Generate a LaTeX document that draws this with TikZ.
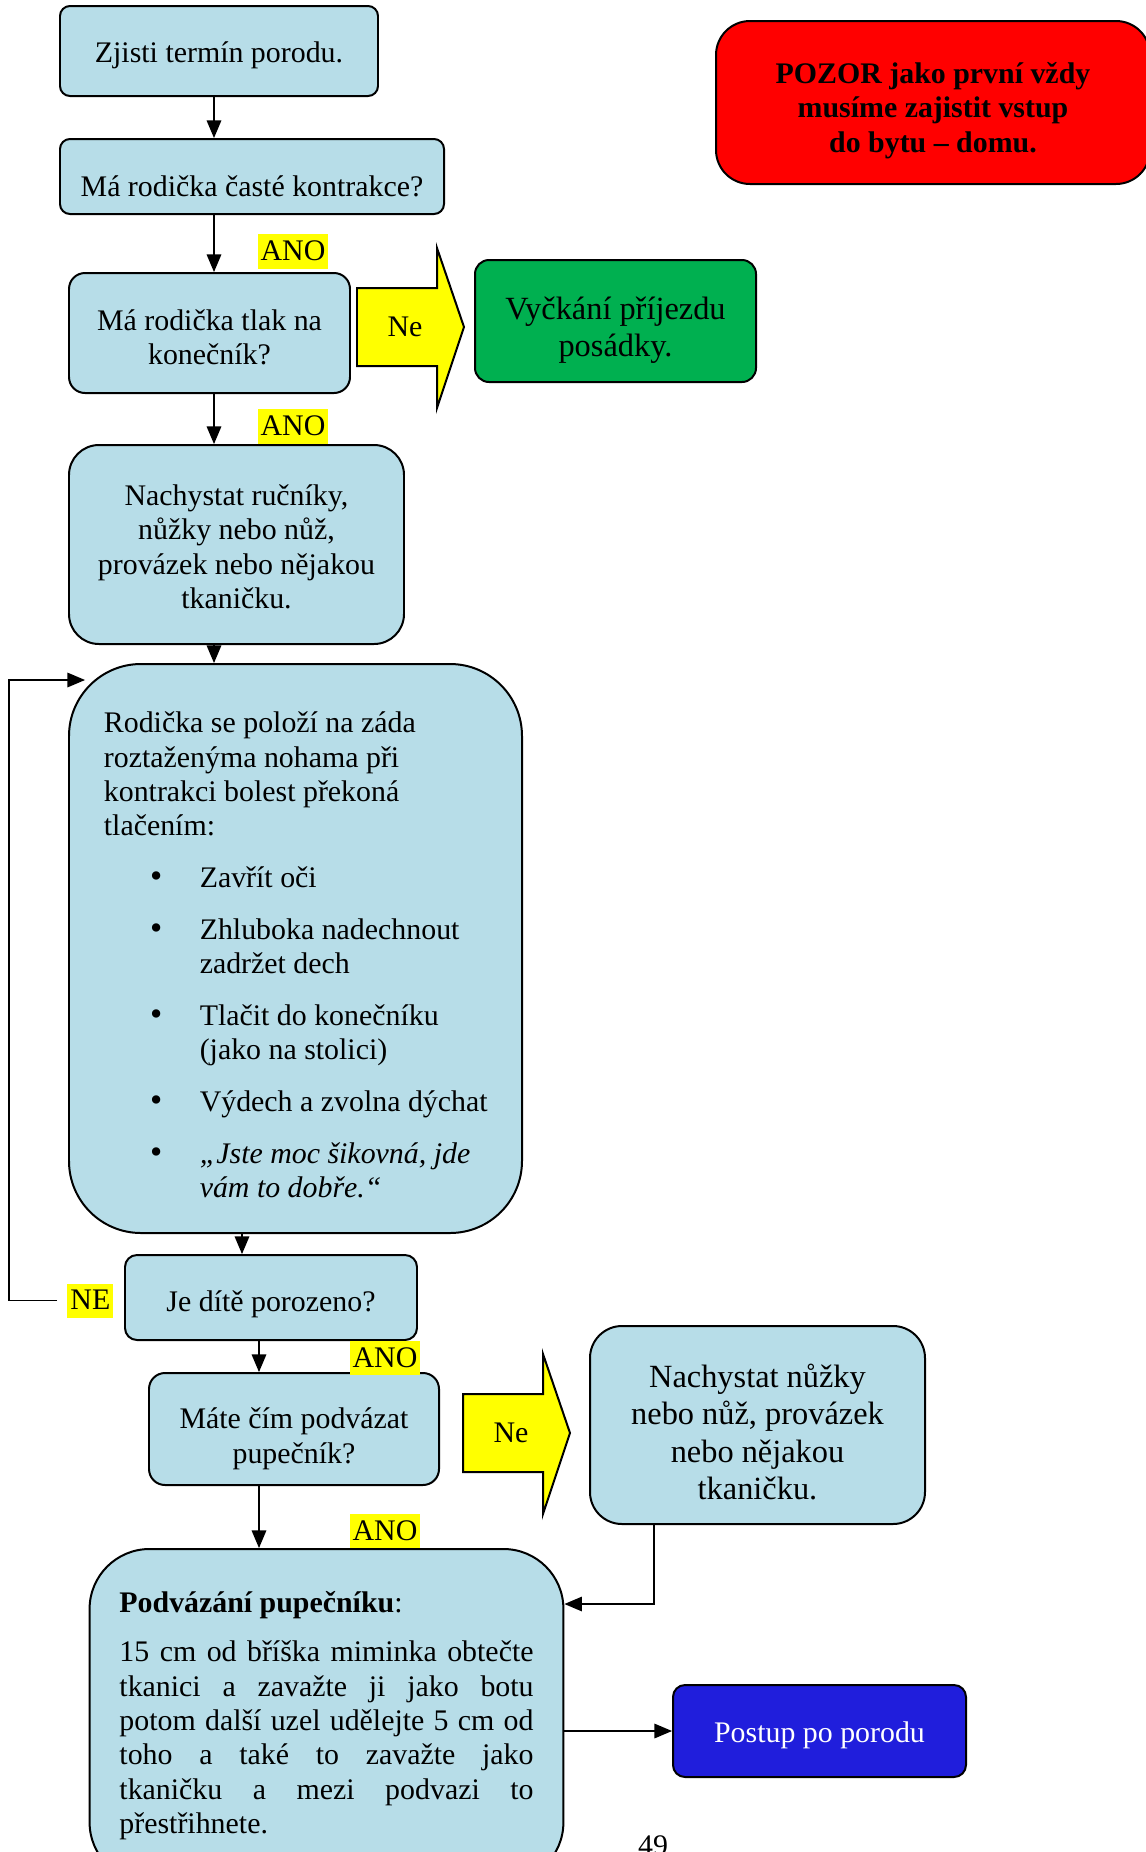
\documentclass[tikz,border=0pt]{standalone}
\usepackage{fontspec}
\setmainfont{Liberation Serif}
\usetikzlibrary{arrows}
\setlength{\parindent}{0pt}

\newcommand{\pxl}{0.4016pt}
\newcommand{\sinkto}[1]{\rule{0pt}{#1}}
\newenvironment{pushlist}{\begin{list}{{\fontsize{14pt}{13.8pt}\selectfont\textbullet}}{\setlength{\leftmargin}{38.5pt}\setlength{\labelsep}{15pt}\setlength{\labelwidth}{23.5pt}\setlength{\itemsep}{7pt}\setlength{\parsep}{0pt}\setlength{\topsep}{7pt}\setlength{\partopsep}{0pt}}}{\end{list}}

\begin{document}
\begin{tikzpicture}[x=0.4016pt,y=-0.4016pt,>=triangle 45,
  every node/.style={font=\fontsize{12pt}{13.8pt}\selectfont},
  stepbox/.style={draw, line width=0.8pt, fill=boxColor, align=center, inner sep=0pt},
  boxsize/.style 2 args={minimum width=#1*\pxl, minimum height=#2*\pxl},
  answer/.style={fill=markColor, inner xsep=1.2pt, inner ysep=0pt, text height=10.6pt, text depth=3.2pt},
  link/.style={->, line width=0.6pt}]
\useasboundingbox (0,0) rectangle (1146,1852);
\definecolor{boxColor}{RGB}{183,221,232}
\definecolor{waitColor}{RGB}{0,176,80}
\definecolor{warnColor}{RGB}{255,0,0}
\definecolor{nextColor}{RGB}{32,30,220}
\definecolor{markColor}{RGB}{255,255,0}
% main column
\node[stepbox, boxsize={318}{90}, rounded corners=10*\pxl] (term) at (219,51) {\sinkto{11.5pt}Zjisti termín porodu.};
\node[stepbox, boxsize={384}{75}, rounded corners=10*\pxl] (kontrakce) at (252,176.5) {\sinkto{15.9pt}Má rodička časté kontrakce?};
\node[stepbox, boxsize={281}{120}, rounded corners=16*\pxl] (tlak) at (209.5,333) {\sinkto{11.7pt}Má rodička tlak na\\konečník?};
\node[stepbox, boxsize={335}{199}, rounded corners=30*\pxl] (rucniky) at (236.5,544.5) {\sinkto{10.3pt}Nachystat ručníky,\\nůžky nebo nůž,\\provázek nebo nějakou\\tkaničku.};
\node[stepbox, boxsize={453}{569}, rounded corners=72*\pxl, align=flush left, text width=153.9pt] (tlaceni) at (295.5,948.5) {\sinkto{20.7pt}Rodička se položí na záda\\roztaženýma nohama při\\kontrakci bolest překoná\\tlačením:
  \begin{pushlist}
  \item Zavřít oči
  \item Zhluboka nadechnout\\zadržet dech
  \item Tlačit do konečníku\\(jako na stolici)
  \item \makebox[0pt][l]{Výdech a zvolna dýchat}
  \item \textit{„Jste moc šikovná, jde\\vám to dobře.“}
  \end{pushlist}\vspace{-7pt}};
\node[stepbox, boxsize={292}{85}, rounded corners=12*\pxl] (porozeno) at (271,1297.5) {\sinkto{13.9pt}Je dítě porozeno?};
\node[stepbox, boxsize={290}{112}, rounded corners=16*\pxl] (podvazat) at (294,1429) {\sinkto{16.3pt}Máte čím podvázat\\pupečník?};
\node[stepbox, anchor=north, rounded corners=60*\pxl, align=justify, text width=166.3pt, inner xsep=12pt, inner ysep=17pt] (pupecnik) at (326.5,1548) {\sloppy\textbf{Podvázání pupečníku}:\par\vspace{6pt}15 cm od bříška miminka obtečte\linebreak tkanici a zavažte ji jako botu\linebreak potom další uzel udělejte 5 cm od\linebreak toho a také to zavažte jako\linebreak tkaničku a mezi podvazi to\linebreak přestřihnete.};
% side boxes
\node[stepbox, fill=warnColor, boxsize={434}{163}, rounded corners=34*\pxl, font=\fontsize{12pt}{13.8pt}\selectfont\bfseries] (pozor) at (933,102.5) {\sinkto{14.9pt}POZOR jako první vždy\\musíme zajistit vstup\\do bytu – domu.};
\node[stepbox, fill=waitColor, boxsize={281}{122}, rounded corners=14*\pxl, font=\fontsize{13pt}{14.9pt}\selectfont] (vyckani) at (615.5,321) {\sinkto{16.6pt}Vyčkání příjezdu\\posádky.};
\node[stepbox, boxsize={335}{198}, rounded corners=32*\pxl, font=\fontsize{13pt}{14.9pt}\selectfont] (nuzky) at (757.5,1425) {\sinkto{15pt}Nachystat nůžky\\nebo nůž, provázek\\nebo nějakou\\tkaničku.};
\node[stepbox, fill=nextColor, text=white, boxsize={293}{92}, rounded corners=12*\pxl] (postup) at (819.5,1731) {\sinkto{12.1pt}Postup po porodu};
% answers
\node[answer] (ano1) at (293,251.6) {ANO};
\node[answer] (ano2) at (293,426.5) {ANO};
\node[answer] (ne) at (90.4,1300.7) {NE};
\node[answer] (ano3) at (385,1358) {ANO};
\node[answer] (ano4) at (385,1531) {ANO};
% yellow block arrows
\foreach \dx/\dy/\name in {0/0/nay1, 106/1106/nay2} {
  \begin{scope}[shift={(\dx,\dy)}]
    \draw[line width=0.8pt, fill=markColor] (357,288) -- (437,288) -- (437,248) -- (464,327) -- (437,408) -- (437,366) -- (357,366) -- cycle;
    \node (\name) at (405,327) {Ne};
  \end{scope}
}
% connectors
\coordinate (spine) at (214,0);
\coordinate (spineb) at (242,0);
\coordinate (spinec) at (259,0);
\foreach \a/\b/\s in {term/kontrakce/spine, kontrakce/tlak/spine, tlak/rucniky/spine, rucniky/tlaceni/spine, tlaceni/porozeno/spineb, porozeno/podvazat/spinec, podvazat/pupecnik/spinec}
  \draw[link] (\a.south -| \s) -- (\b.north -| \s);
\coordinate (loop) at (9,680);
\coordinate (back) at (85,680);
\draw[link] ([xshift=-4pt]ne.west) -| (loop) -- (back);
\coordinate (tie) at (654,1604);
\draw[link] (nuzky.south -| tie) |- (tie -| pupecnik.east);
\draw[link] (pupecnik.east |- postup.west) -- (postup.west);
\node[anchor=base] (page) at (653,1855) {49};
\end{tikzpicture}
\end{document}
